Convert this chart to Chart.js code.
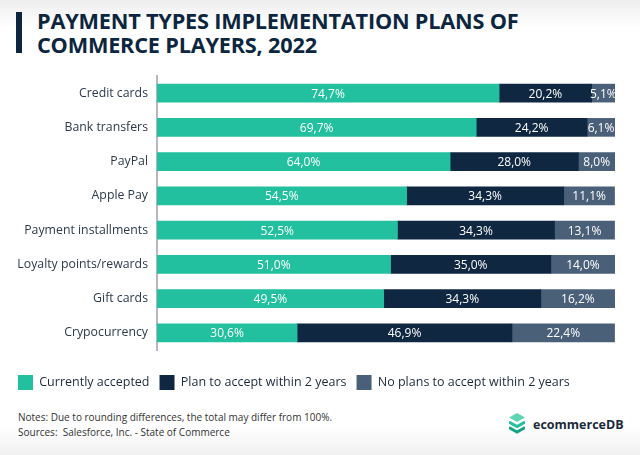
<!DOCTYPE html>
<html>
<head>
<meta charset="utf-8">
<script src="https://cdn.jsdelivr.net/npm/chart.js@4.4.1/dist/chart.umd.min.js"></script>
<style>
  html, body { margin: 0; padding: 0; }
  body {
    width: 640px; height: 455px; position: relative; overflow: hidden;
    font-family: "Open Sans", sans-serif;
    background: linear-gradient(to bottom, #eeeeee 0px, #ffffff 28px, #ffffff 425px, #f0f0f0 455px);
  }
  #bar { position: absolute; left: 16px; top: 12px; width: 6px; height: 41px; background: #0d2640; }
  #title {
    position: absolute; left: 37px; top: 9px; margin: 0;
    font-size: 21.7px; font-weight: 700; line-height: 24px; color: #0d2640; letter-spacing: -0.2px;
  }
  #chart { position: absolute; left: 0; top: 0; }
  #notes { position: absolute; left: 18px; top: 410px; font-size: 10px; line-height: 15px; color: #333; }
  #logo { position: absolute; left: 509px; top: 413px; display: flex; align-items: center; }
  #logo span { font-size: 12.5px; font-weight: 700; color: #1b2a3a; margin-left: 8px; }
</style>
</head>
<body>
<div id="bar"></div>
<h1 id="title">PAYMENT TYPES IMPLEMENTATION PLANS OF<br>COMMERCE PLAYERS, 2022</h1>
<canvas id="chart" width="640" height="400" style="width:640px;height:400px"></canvas>
<div id="notes">Notes: Due to rounding differences, the total may differ from 100%.<br>Sources:&nbsp; Salesforce, Inc. - State of Commerce</div>
<div id="logo">
  <svg width="16" height="22" viewBox="0 0 16 22">
    <polygon points="8,0 16,4.5 8,9 0,4.5" fill="#5fd6b3"/>
    <polyline points="0,9 8,13.5 16,9" fill="none" stroke="#22c09e" stroke-width="3"/>
    <polyline points="0,14.5 8,19 16,14.5" fill="none" stroke="#16a385" stroke-width="3"/>
  </svg>
  <span>ecommerceDB</span>
</div>
<script>
let paymentTypes = [
    "Credit cards",
    "Bank transfers",
    "PayPal",
    "Apple Pay",
    "Payment installments",
    "Loyalty points/rewards",
    "Gift cards",
    "Crypocurrency"
];

let Accepted = [74.7, 69.7, 64.0, 54.5, 52.5, 51.0, 49.5, 30.6];
let Planned = [20.2, 24.2, 28.0, 34.3, 34.3, 35.0, 34.3, 46.9];
let NoPlans = [5.1, 6.1, 8.0, 11.1, 13.1, 14.0, 16.2, 22.4];

// writes the percentage in the middle of every segment
let barLabels = {
    id: "barLabels",
    afterDatasetsDraw: function(chart)
    {
        let ctx = chart.ctx;
        ctx.save();
        ctx.font = "12px 'Open Sans'";
        ctx.fillStyle = "#ffffff";
        ctx.textAlign = "center";
        ctx.textBaseline = "middle";
        chart.data.datasets.forEach(function(ds, d)
        {
            let meta = chart.getDatasetMeta(d);
            meta.data.forEach(function(bar, i)
            {
                let txt = ds.data[i].toFixed(1).replace(".", ",") + "%";
                ctx.fillText(txt, (bar.x + bar.base) / 2, bar.y + 1);
            });
        });
        ctx.restore();
    }
};

let myChart = document.getElementById("chart").getContext("2d");
let display = new Chart(myChart,
{
    type: "bar",
    data:
    {
        labels: paymentTypes,
        datasets: [
            { label: "Currently accepted", data: Accepted, backgroundColor: "#22c09e" },
            { label: "Plan to accept within 2 years", data: Planned, backgroundColor: "#0f2740" },
            { label: "No plans to accept within 2 years", data: NoPlans, backgroundColor: "#4a6079" }
        ]
    },
    options:
    {
        indexAxis: "y",
        responsive: false,
        animation: false,
        devicePixelRatio: 1,
        layout: { padding: { top: 76, right: 25, left: 8, bottom: 0 } },
        datasets: { bar: { barThickness: 18, borderWidth: 0 } },
        scales:
        {
            x: { stacked: true, min: 0, max: 100, display: false },
            y: {
                stacked: true,
                grid: { display: false },
                border: { display: true, color: "#b5b9bf", width: 2 },
                ticks: { color: "#2c3a4a", font: { family: "'Open Sans'", size: 12.3 }, padding: 1 },
                afterFit: function(scale) { scale.width = 149; }
            }
        },
        plugins:
        {
            tooltip: { enabled: false },
            legend:
            {
                position: "bottom",
                align: "start",
                // empty title only adds the gap between the bars and the legend
                title: { display: true, text: "", padding: 0, font: { size: 12.5 } },
                labels: {
                    boxWidth: 15, boxHeight: 15, padding: 10,
                    color: "#1d2b3a",
                    font: { family: "'Open Sans'", size: 12.5 }
                }
            }
        }
    },
    plugins: [barLabels]
});
</script>
</body>
</html>
